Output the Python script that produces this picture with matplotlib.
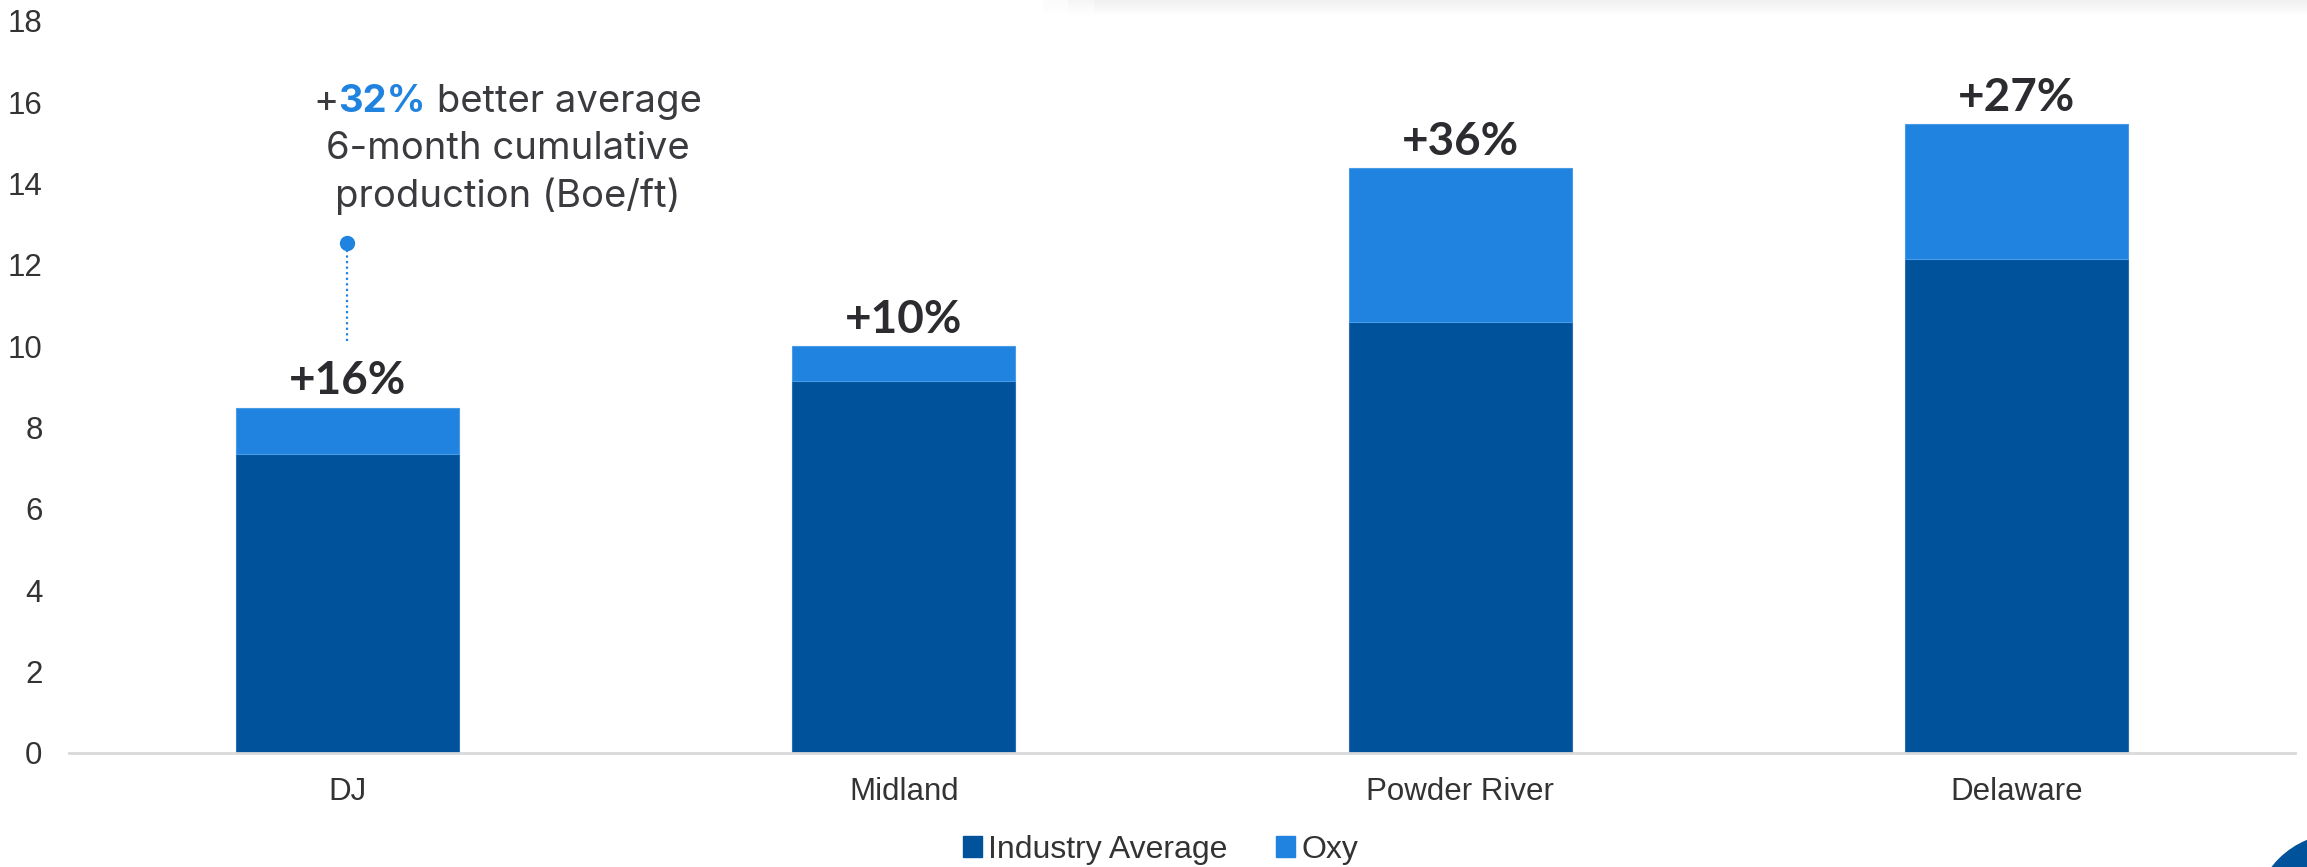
import matplotlib.pyplot as plt
import numpy as np
from matplotlib.patches import Patch, Circle

# basin data (Boe/ft)
categories = ['DJ', 'Midland', 'Powder River', 'Delaware']
industry_avg = [7.34, 9.14, 10.59, 12.14]
oxy_total = [8.49, 10.01, 14.38, 15.47]
uplift_labels = ['+16%', '+10%', '+36%', '+27%']
yticks = [0, 2, 4, 6, 8, 10, 12, 14, 16, 18]

dark_blue = '#00529b'
light_blue = '#1f83df'
text_dark = '#2b2b30'

oxy_extra = [t - b for t, b in zip(oxy_total, industry_avg)]
x = np.arange(len(categories))

fig = plt.figure(figsize=(23.07, 8.67), dpi=100)
ax = fig.add_axes([69 / 2307, 0.1315, (2295 - 69) / 2307, 0.976 - 0.1315])

ax.bar(x, industry_avg, width=0.4, color=dark_blue, edgecolor='#2a6fb5', linewidth=0.8, label='Industry Average')
ax.bar(x, oxy_extra, width=0.4, bottom=industry_avg, color=light_blue, edgecolor='#4a9be6', linewidth=0.8, label='Oxy')

for xi, top, lab in zip(x, oxy_total, uplift_labels):
    ax.annotate(lab, (xi, top), xytext=(0, 9.5), textcoords='offset points',
                ha='center', va='baseline', fontsize=33, fontweight='bold',
                family='Lato', color=text_dark)

ax.set_xlim(-0.5, 3.5)
ax.set_ylim(0, 18)
ax.set_yticks(yticks)
ax.set_xticks(x)
ax.set_xticklabels(categories)
ax.tick_params(axis='both', length=0, labelsize=22.5, labelcolor='#333333')
ax.tick_params(axis='y', pad=19)
ax.tick_params(axis='x', pad=17)
for lab in ax.get_xticklabels() + ax.get_yticklabels():
    lab.set_family('Liberation Sans')
for s in ['top', 'right', 'left']:
    ax.spines[s].set_visible(False)
ax.spines['bottom'].set_color('#d9d9d9')
ax.spines['bottom'].set_linewidth(2)

# callout: dot + dotted stem
ax.plot([0, 0], [10.12, 12.5], color=light_blue, linestyle=(0, (1, 1.5)), linewidth=1.6)
ax.plot(0, 12.54, 'o', color=light_blue, markersize=10)

# callout text
fkw = dict(fontsize=27.5, family='Inter', fontweight='normal', color='#3a3a3f')
cx, cy = 0.288, 14.85
step = 1.16
ax.text(cx, cy, '6-month cumulative', ha='center', va='center', **fkw)
ax.text(cx, cy - step, 'production (Boe/ft)', ha='center', va='center', **fkw)
t1 = ax.text(cx, cy + step, '+', ha='left', va='center', **fkw)
t2 = ax.annotate('32%', xy=(1, 0), xycoords=t1, ha='left', va='bottom',
                 fontsize=27.5, family='Inter', fontweight='bold', color=light_blue)
t3 = ax.annotate(' better average', xy=(1, 0), xycoords=t2, ha='left', va='bottom', **fkw)
fig.canvas.draw()
r = fig.canvas.get_renderer()
left = t1.get_window_extent(r).x0
right = t3.get_window_extent(r).x1
shift = (right - left) / 2
xpix = ax.transData.transform((cx, cy))[0] - shift
t1.set_x(ax.transData.inverted().transform((xpix, 0))[0])

leg = fig.legend(handles=[Patch(color=dark_blue, label='Industry Average'),
                          Patch(color=light_blue, label='Oxy')],
                 loc='center', bbox_to_anchor=(0.503, 0.02), ncol=2, frameon=False,
                 handlelength=0.6, handleheight=0.6, handletextpad=0.2,
                 columnspacing=1.5, prop={'family': 'Liberation Sans', 'size': 23})
for t in leg.get_texts():
    t.set_color('#333333')

# faint shadow of the panel above (top right)
sh = fig.add_axes([0.452, 1 - 16 / 867, 0.548, 16 / 867])
grad = np.linspace(0.10, 0.0, 16).reshape(-1, 1) * np.ones((1, 50))
grad[:, :3] *= np.linspace(0.3, 1, 3)
sh.imshow(np.dstack([np.full_like(grad, 0.45)] * 3 + [grad]), aspect='auto',
          extent=(0, 1, 0, 1))
sh.axis('off')

# corner badge
fig.patches.append(Circle((23.40, -0.53), 0.86, transform=fig.dpi_scale_trans,
                          color=dark_blue, zorder=5))

fig.savefig('out.png', dpi=100)
